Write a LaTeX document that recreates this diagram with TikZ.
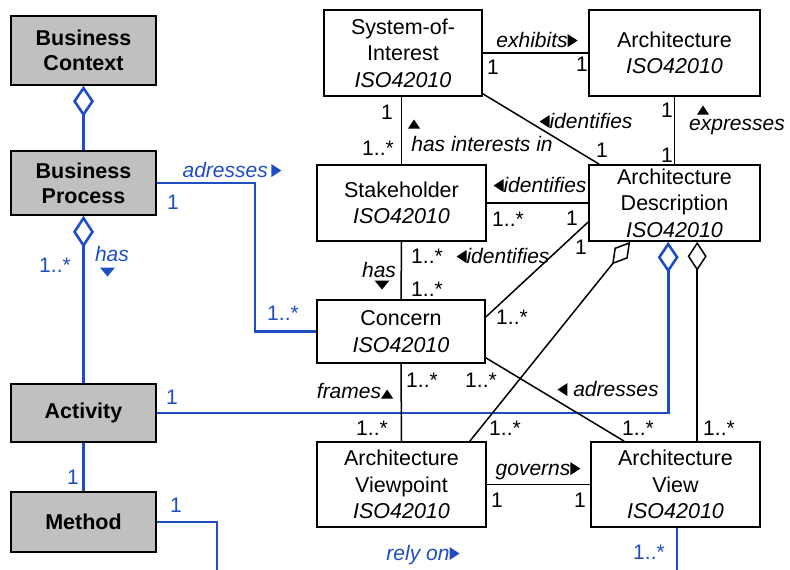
\documentclass[tikz,border=0pt]{standalone}
\usepackage{fontspec}
\setmainfont{Liberation Sans}
\usetikzlibrary{arrows.meta,calc}
\definecolor{ublue}{RGB}{31,78,196}
\definecolor{ugray}{RGB}{192,192,192}
\newcommand{\tR}[1][black]{\raisebox{0.02em}{\tikz\fill[#1] (0pt,0pt) -- (0pt,13pt) -- (10pt,6.5pt) -- cycle;}}
\newcommand{\tL}[1][black]{\raisebox{0.02em}{\tikz\fill[#1] (10pt,0pt) -- (10pt,13pt) -- (0pt,6.5pt) -- cycle;}}
\newcommand{\tU}[1][black]{\tikz\fill[#1] (0pt,0pt) -- (12pt,0pt) -- (6pt,9pt) -- cycle;}
\newcommand{\tD}[1][black]{\tikz\fill[#1] (0pt,9pt) -- (15pt,9pt) -- (7.5pt,0pt) -- cycle;}
\begin{document}
\begin{tikzpicture}[x=1pt,y=-1pt,
  box/.style={draw=black, line width=1.6pt, fill=white, align=center, inner sep=0pt, font=\fontsize{21.5}{26.5}\selectfont},
  gbox/.style={box, fill=ugray, font=\fontsize{21.5}{25}\selectfont\bfseries},
  lbl/.style={inner sep=0pt, font=\fontsize{21}{25}\selectfont},
  blbl/.style={lbl, text=ublue},
  conn/.style={draw=black, line width=1.5pt},
  bconn/.style={draw=ublue, line width=2.6pt}]
\useasboundingbox (0,0) rectangle (790,570);
% boxes
\node[gbox, minimum width=145pt, minimum height=69pt] (BC) at (83.5,50.5) {Business\\Context};
\node[gbox, minimum width=145pt, minimum height=64pt] (BP) at (83.5,183) {Business\\Process};
\node[gbox, minimum width=145pt, minimum height=58pt] (ACT) at (83.5,413) {Activity};
\node[gbox, minimum width=145pt, minimum height=60pt] (METH) at (83.5,522) {Method};
\node[box, minimum width=158pt, minimum height=86pt] (SOI) at (403,53) {System-of-\\Interest\\\textit{ISO42010}};
\node[box, minimum width=171pt, minimum height=86pt] (ARCH) at (674.5,53) {Architecture\\\textit{ISO42010}};
\node[box, minimum width=169pt, minimum height=76pt] (STK) at (401.5,203) {Stakeholder\\\textit{ISO42010}};
\node[box, minimum width=171pt, minimum height=76pt] (AD) at (674.5,203) {Architecture\\Description\\\textit{ISO42010}};
\node[box, minimum width=168pt, minimum height=63pt] (CON) at (401,331.5) {Concern\\\textit{ISO42010}};
\node[box, minimum width=169pt, minimum height=85pt] (VP) at (401.5,484.5) {Architecture\\Viewpoint\\\textit{ISO42010}};
\node[box, minimum width=169pt, minimum height=85pt] (VIEW) at (675.5,484.5) {Architecture\\View\\\textit{ISO42010}};
% coordinates
\coordinate (adc) at (255,0);
\coordinate (adb) at ($(AD.south west)+(80,0)$);
\coordinate (adk) at ($(AD.south west)+(109,0)$);
\coordinate (adv) at ($(AD.south west)+(42,0)$);
\coordinate (vpt) at ($(VP.north east)+(-17,0)$);
\coordinate (mb) at (217,570);
\coordinate (vb) at (677,570);
% blue connectors
\draw[bconn, {Diamond[open,length=31pt,width=21pt]}-] (BC.south) -- (BP.north);
\draw[bconn, {Diamond[open,length=32pt,width=21pt]}-] (BP.south) -- (ACT.north);
\draw[bconn] (ACT.south) -- (METH.north);
\draw[bconn] (BP.east) -| (adc |- CON.west) -- (CON.west);
\draw[bconn, {Diamond[open,length=31pt,width=21pt]}-] (adb) |- (ACT.east);
\draw[bconn] (METH.east) -| (mb);
\draw[bconn] (VIEW.south -| vb) -- (vb);
% black connectors
\draw[conn] (SOI.east) -- (ARCH.west);
\draw[conn] ($(SOI.south east)+(0,-3)$) -- ($(AD.north west)+(11,0)$);
\draw[conn] (ARCH.south) -- (AD.north);
\draw[conn] (STK.north |- SOI.south) -- (STK.north);
\draw[conn] (STK.east) -- (AD.west);
\draw[conn] (STK.south) -- (CON.north);
\draw[conn] ($(AD.west)+(0,19)$) -- ($(CON.east)+(0,-14.5)$);
\draw[conn] ($(CON.south east)+(0,-6)$) -- ($(VIEW.north west)+(34,0)$);
\draw[conn] (CON.south) -- (VP.north);
\draw[conn] (VP.east) -- (VIEW.west);
\draw[conn, {Diamond[open,length=29pt,width=19pt]}-] (adk) -- (adk |- VIEW.north);
\draw[conn, {Diamond[open,length=29pt,width=17pt]}-] (adv) -- (vpt);
% blue labels
\node[blbl] (ladr1) at (232,170) {\textit{adresses}\,\tR[ublue]};
\node[blbl] (m1) at (173,202) {1};
\node[blbl] (m2) at (283,313) {1..*};
\node[blbl] (m3) at (55,265) {1..*};
\node[blbl] (lhas1) at (112,254) {\textit{has}};
\node[blbl] (thas1) at (107.5,272) {\tD[ublue]};
\node[blbl] (m4) at (172,397) {1};
\node[blbl] (m5) at (73,477) {1};
\node[blbl] (m6) at (176,505) {1};
\node[blbl] (lrely) at (423,555) {\textit{rely on}\tR[ublue]};
\node[blbl] (m7) at (649,552) {1..*};
% black labels
\node[lbl] (lexh) at (537,40) {\textit{exhibits}\tR};
\node[lbl] (n1) at (493,67) {1};
\node[lbl] (n2) at (582,64) {1};
\node[lbl] (lid1) at (586,121) {\tL\textit{identifies}};
\node[lbl] (n3) at (602,150) {1};
\node[lbl] (n4) at (667,110) {1};
\node[lbl] (n5) at (667,155) {1};
\node[lbl] (texp) at (703,110) {\tU};
\node[lbl] (lexp) at (737,127) {\textit{expresses}};
\node[lbl] (n6) at (387,112) {1};
\node[lbl] (n7) at (378,148) {1..*};
\node[lbl] (thi) at (414,124) {\tU};
\node[lbl] (lhi) at (482,144) {\textit{has interests in}};
\node[lbl] (lid2) at (540,185) {\tL\textit{identifies}};
\node[lbl] (n8) at (508,219) {1..*};
\node[lbl] (n9) at (572,218) {1};
\node[lbl] (n10) at (581,247) {1};
\node[lbl] (n11) at (427,256) {1..*};
\node[lbl] (lid3) at (503,256) {\tL\textit{identifies}};
\node[lbl] (lhas2) at (379,270) {\textit{has}};
\node[lbl] (thas2) at (382,285) {\tD};
\node[lbl] (n12) at (427,289) {1..*};
\node[lbl] (n13) at (512,317) {1..*};
\node[lbl] (n14) at (422,380) {1..*};
\node[lbl] (n15) at (481,380) {1..*};
\node[lbl] (lfr) at (355,391) {\textit{frames}\tU};
\node[lbl] (ladr2) at (608,389) {\tL\ \textit{adresses}};
\node[lbl] (n16) at (372,428) {1..*};
\node[lbl] (n17) at (505,428) {1..*};
\node[lbl] (n18) at (638,428) {1..*};
\node[lbl] (n19) at (719,428) {1..*};
\node[lbl] (lgov) at (538,471) {\textit{governs}\tR};
\node[lbl] (n20) at (497,500) {1};
\node[lbl] (n21) at (580,500) {1};
\end{tikzpicture}
\end{document}
